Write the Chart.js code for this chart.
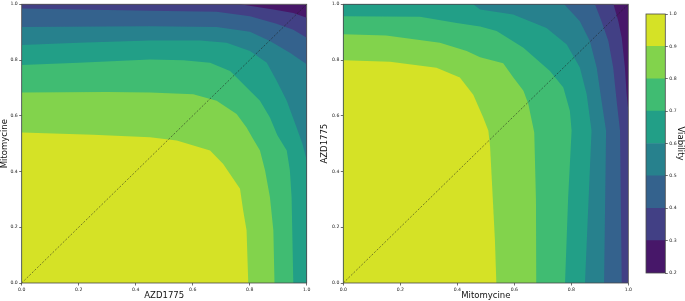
<!DOCTYPE html>
<html><head><meta charset="utf-8">
<script src="https://cdn.jsdelivr.net/npm/chart.js@4"></script>
<style>
html,body{margin:0;padding:0;background:#fff;width:685px;height:301px;overflow:hidden}
canvas{position:absolute;top:0}
#c1{left:0px}#c2{left:320px}#c3{left:640px}
</style></head><body>
<canvas id="c1" width="315" height="301" style="width:315px;height:301px"></canvas>
<canvas id="c2" width="315" height="301" style="width:315px;height:301px"></canvas>
<canvas id="c3" width="45" height="301" style="width:45px;height:301px"></canvas>
<script>
// ---- data ----
const levels = [0.2, 0.3, 0.4, 0.5, 0.6, 0.7, 0.8, 0.9, 1.0];
const bandColors = ['#471769', '#424085', '#34628d', '#27818d', '#229f87', '#40bc72', '#82d34c', '#d5e226'];
const axisTicks = [0, 0.2, 0.4, 0.6, 0.8, 1.0];
const colorbarTicks = [0.2, 0.3, 0.4, 0.5, 0.6, 0.7, 0.8, 0.9, 1.0];
const diagonal = [[0, 0], [1, 1]];

// Left panel (x: AZD1775, y: Mitomycine) contour boundaries for viability >= level
const left_c20 = [[0, 1], [1, 1]];
const left_c30 = [[0, 1], [0.766, 1], [0.883, 0.981], [0.953, 0.969], [1, 0.952]];
const left_c40 = [[0, 0.985], [0.45, 0.977], [0.684, 0.973], [0.801, 0.957], [0.894, 0.930], [0.953, 0.909], [1, 0.880]];
const left_c50 = [[0, 0.918], [0.45, 0.921], [0.684, 0.918], [0.801, 0.901], [0.871, 0.868], [0.941, 0.826], [1, 0.785]];
const left_c60 = [[0, 0.854], [0.2, 0.862], [0.45, 0.870], [0.626, 0.870], [0.719, 0.862], [0.801, 0.832], [0.860, 0.790], [0.895, 0.725], [0.930, 0.654], [0.962, 0.565], [0.985, 0.5], [1, 0.44]];
const left_c70 = [[0, 0.782], [0.2, 0.79], [0.45, 0.802], [0.567, 0.799], [0.661, 0.79], [0.731, 0.761], [0.778, 0.713], [0.836, 0.654], [0.871, 0.594], [0.897, 0.53], [0.930, 0.475], [0.941, 0.404], [0.947, 0.308], [0.953, 0]];
const left_c80 = [[0, 0.683], [0.3, 0.685], [0.45, 0.683], [0.602, 0.677], [0.684, 0.654], [0.754, 0.606], [0.789, 0.558], [0.81, 0.52], [0.836, 0.475], [0.854, 0.404], [0.871, 0.308], [0.883, 0.189], [0.887, 0]];
const left_c90 = [[0, 0.54], [0.25, 0.532], [0.45, 0.523], [0.544, 0.511], [0.661, 0.475], [0.707, 0.427], [0.766, 0.338], [0.777, 0.261], [0.789, 0.189], [0.795, 0]];

// Right panel (x: Mitomycine, y: AZD1775)
const right_c20 = [[0, 1], [1, 1]];
const right_c30 = [[0, 1], [0.948, 1], [0.965, 0.939], [0.977, 0.880], [0.988, 0.774], [0.994, 0.680], [1, 0.618]];
const right_c40 = [[0, 1], [0.883, 1], [0.906, 0.939], [0.930, 0.868], [0.947, 0.773], [0.959, 0.654], [0.971, 0.546], [0.977, 0]];
const right_c50 = [[0, 1], [0.775, 1], [0.830, 0.939], [0.865, 0.868], [0.889, 0.773], [0.906, 0.654], [0.922, 0.546], [0.915, 0]];
const right_c60 = [[0, 1], [0.456, 1], [0.48, 0.981], [0.596, 0.963], [0.713, 0.915], [0.784, 0.856], [0.830, 0.773], [0.854, 0.677], [0.871, 0.546], [0.848, 0]];
const right_c70 = [[0, 0.957], [0.269, 0.955], [0.398, 0.933], [0.480, 0.92], [0.538, 0.904], [0.632, 0.844], [0.725, 0.761], [0.772, 0.701], [0.795, 0.618], [0.801, 0.546], [0.789, 0.308], [0.778, 0]];
const right_c80 = [[0, 0.892], [0.15, 0.888], [0.339, 0.862], [0.433, 0.832], [0.48, 0.81], [0.561, 0.788], [0.596, 0.738], [0.632, 0.690], [0.649, 0.643], [0.670, 0.54], [0.676, 0.3], [0.677, 0]];
const right_c90 = [[0, 0.799], [0.164, 0.794], [0.327, 0.772], [0.409, 0.737], [0.456, 0.675], [0.491, 0.594], [0.509, 0.546], [0.515, 0.49], [0.520, 0.392], [0.532, 0.154], [0.537, 0]];

const leftContours = [left_c20, left_c30, left_c40, left_c50, left_c60, left_c70, left_c80, left_c90];
const rightContours = [right_c20, right_c30, right_c40, right_c50, right_c60, right_c70, right_c80, right_c90];

// ---- helpers ----
const FONT = 'DejaVu Sans';
function region(curve) {
  const pts = curve.map(([x, y]) => ({x, y}));
  const last = curve[curve.length - 1];
  if (last[1] > 0) pts.push({x: last[0], y: 0});
  pts.push({x: 0, y: 0});
  return pts;
}
const frame = {
  id: 'frame',
  afterDatasetsDraw(chart) {
    const {ctx, chartArea: a} = chart;
    ctx.save();
    ctx.strokeStyle = '#4a4a4a';
    ctx.lineWidth = 0.8;
    ctx.strokeRect(a.left, a.top, a.right - a.left, a.bottom - a.top);
    ctx.restore();
  }
};
function axis(title, ticks, fitFn) {
  return {
    type: 'linear', min: 0, max: 1,
    afterBuildTicks: s => { s.ticks = ticks.map(v => ({value: v})); },
    afterFit: fitFn,
    ticks: {font: {family: FONT, size: 4.6}, color: '#222', padding: 1.5, maxRotation: 0, autoSkip: false,
            callback: v => Number(v).toFixed(1)},
    grid: {drawOnChartArea: false, drawTicks: true, tickLength: 2.5, color: '#4a4a4a', lineWidth: 0.8},
    border: {display: false},
    title: {display: true, text: title, font: {family: FONT, size: 8.5}, color: '#111', padding: {top: 0, bottom: 0}}
  };
}
function panel(canvasId, contours, xTitle, yTitle, yWidth, padRight) {
  const datasets = [{
    data: diagonal.map(([x, y]) => ({x, y})), borderColor: 'rgba(30,30,30,0.75)', borderWidth: 0.7,
    borderDash: [2, 1.6], pointRadius: 0, fill: false, tension: 0
  }];
  for (let i = contours.length - 1; i >= 0; i--) {
    datasets.push({
      data: region(contours[i]), backgroundColor: bandColors[i], borderColor: 'rgba(0,0,0,0)',
      borderWidth: 0, pointRadius: 0, fill: 'shape', tension: 0
    });
  }
  return new Chart(document.getElementById(canvasId), {
    type: 'line',
    data: {datasets},
    options: {
      responsive: false, animation: false, events: [],
      layout: {padding: {left: 0, top: 3, right: padRight, bottom: 0}},
      plugins: {legend: {display: false}, tooltip: {enabled: false}},
      scales: {
        x: axis(xTitle, axisTicks, s => { s.height = 18; }),
        y: axis(yTitle, axisTicks, s => { s.width = yWidth; })
      }
    },
    plugins: [frame]
  });
}

panel('c1', leftContours, 'AZD1775', 'Mitomycine', 21.7, 8.3);
panel('c2', rightContours, 'Mitomycine', 'AZD1775', 23.3, 6.7);

// colorbar
const cbDatasets = bandColors.map((c, i) => ({
  data: [[levels[i], levels[i + 1]]], backgroundColor: c, borderWidth: 0,
  barPercentage: 1, categoryPercentage: 1, grouped: false
}));
new Chart(document.getElementById('c3'), {
  type: 'bar',
  data: {labels: ['Viability'], datasets: cbDatasets},
  options: {
    responsive: false, animation: false, events: [],
    layout: {padding: {left: 6, top: 14, right: 0, bottom: 28}},
    plugins: {legend: {display: false}, tooltip: {enabled: false}},
    scales: {
      x: {display: false},
      y: {
        position: 'right', min: 0.2, max: 1.0,
        afterBuildTicks: s => { s.ticks = colorbarTicks.map(v => ({value: v})); },
        afterFit: s => { s.width = 19.7; },
        ticks: {font: {family: FONT, size: 4.6}, color: '#222', padding: 1.5, autoSkip: false,
                callback: v => Number(v).toFixed(1)},
        grid: {drawOnChartArea: false, drawTicks: true, tickLength: 2.5, color: '#4a4a4a', lineWidth: 0.8},
        border: {display: false},
        title: {display: true, text: 'Viability', font: {family: FONT, size: 8.5}, color: '#111', padding: {top: 0, bottom: 0}}
      }
    }
  },
  plugins: [frame]
});
</script></body></html>
